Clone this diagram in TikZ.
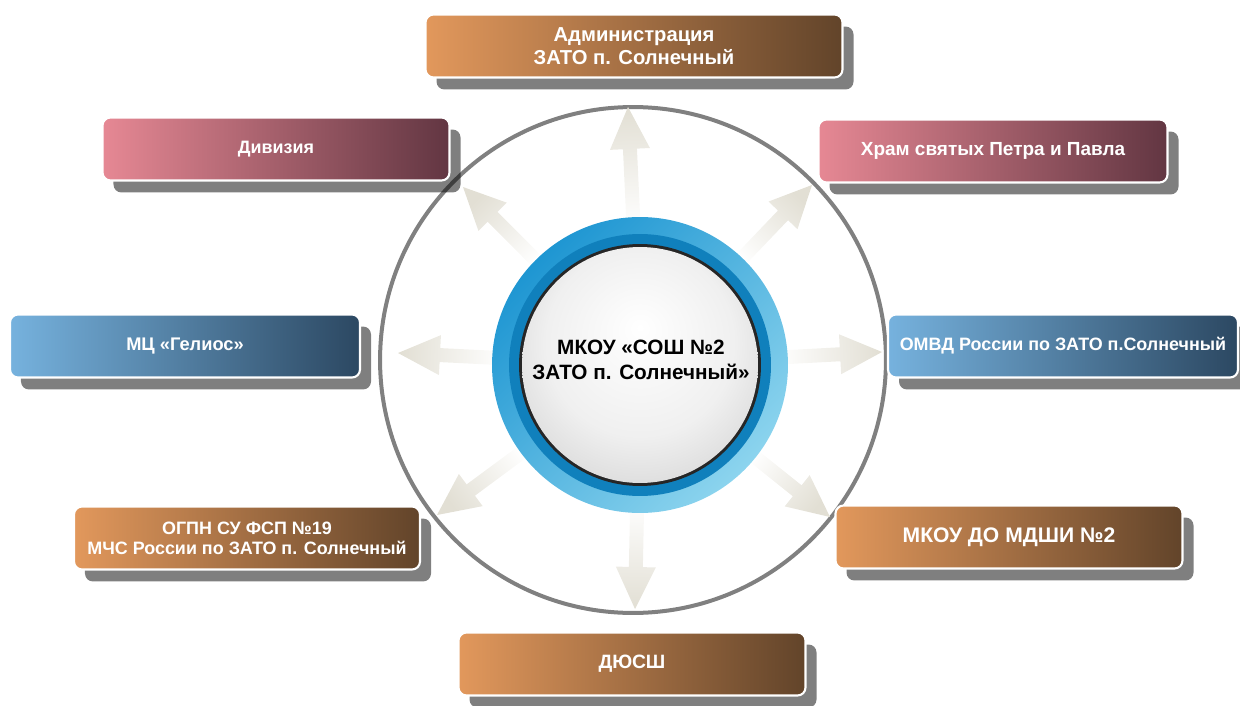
\documentclass[tikz,border=0pt]{standalone}
\usepackage{fontspec}
\setmainfont{Liberation Sans}
\usetikzlibrary{calc,shadows}

\definecolor{arrowc}{RGB}{226,223,212}
\definecolor{brownL}{RGB}{226,152,92}
\definecolor{brownR}{RGB}{98,68,42}
\definecolor{roseL}{RGB}{230,136,148}
\definecolor{roseR}{RGB}{98,54,66}
\definecolor{blueL}{RGB}{118,178,222}
\definecolor{blueR}{RGB}{44,72,98}
\definecolor{ringA}{RGB}{30,150,210}
\definecolor{ringB}{RGB}{140,212,238}
\definecolor{ringC}{RGB}{16,128,188}

\pgfdeclareradialshading{discshade}{\pgfpoint{0bp}{8bp}}{%
  color(0bp)=(white); color(20bp)=(black!6); color(38bp)=(black!20);
  color(46bp)=(black!32); color(50bp)=(black!45)}

% fat fading arrow from the hub towards a tip coordinate
\newcommand\fatarrow[1]{%
  \coordinate (s) at ($(hub)!2.7cm!(#1)$);
  \pgfmathanglebetweenpoints{\pgfpointanchor{s}{center}}{\pgfpointanchor{#1}{center}}%
  \let\arrang\pgfmathresult
  \shade[top color=arrowc, bottom color=white, shading angle=\arrang-90]
    ($(s)!0.14cm!90:(#1)$) --
    ($(#1)!0.84cm!(s)!0.14cm!90:(#1)$) --
    ($(#1)!0.84cm!(s)!0.40cm!90:(#1)$) --
    (#1) --
    ($(#1)!0.84cm!(s)!0.40cm!-90:(#1)$) --
    ($(#1)!0.84cm!(s)!0.14cm!-90:(#1)$) --
    ($(s)!0.14cm!-90:(#1)$) -- cycle;
}

\begin{document}
\begin{tikzpicture}[x=0.02cm, y=-0.02cm,
  box/.style={rounded corners=0.16cm, draw=white, line width=1.2pt,
    text=white, align=center, minimum height=1.26cm, inner sep=2pt,
    drop shadow={shadow xshift=0.22cm, shadow yshift=-0.24cm, fill=black, opacity=0.5}},
  brown box/.style={left color=brownL, right color=brownR},
  rose box/.style={left color=roseL, right color=roseR},
  blue box/.style={left color=blueL, right color=blueR}]

  \useasboundingbox (0,0) rectangle (1240,706);

  % outer frame circle
  \node [circle, draw=black!50, line width=0.08cm, minimum size=10.12cm] (frame) at (633,360) {};

  \node [circle, minimum size=5.92cm, inner sep=0pt] (hub) at (640,365) {};

  \coordinate (admin-tip) at (628,107);
  \coordinate (division-tip) at (463,187);
  \coordinate (temple-tip) at (812,185);
  \coordinate (youth-tip) at (398,353);
  \coordinate (police-tip) at (882,352);
  \coordinate (fire-tip) at (437,515);
  \coordinate (music-tip) at (830,517);
  \coordinate (sport-tip) at (635,609);

  \foreach \t in {admin,division,temple,youth,police,fire,music,sport}
  \fatarrow{\t-tip};

  % central emblem
  \shade [top color=ringA, bottom color=ringB, shading angle=45] (hub) circle (2.96cm);
  \fill [ringC] (hub) circle (2.62cm);
  \fill [black!85] (hub) circle (2.42cm);
  \shade [shading=discshade] (hub) circle (2.36cm);
  \node [align=center, font=\bfseries\fontsize{11.8pt}{14.5pt}\selectfont] (school) at (641,360)
    {МКОУ «СОШ №2\\ЗАТО п. Солнечный»};

  \foreach \nm/\sty/\x/\y/\w/\fs/\txt in {
    admin/brown/634/46/417/11.5/{Администрация\\ЗАТО п. Солнечный},
    division/rose/276/149/347/10.2/{Дивизия},
    temple/rose/993/151/349/10.8/{Храм святых Петра и Павла},
    youth/blue/185/346/350/10.4/{МЦ «Гелиос»},
    police/blue/1063/346/350/10.2/{ОМВД России по ЗАТО п.Солнечный},
    fire/brown/247/538/346/10.2/{ОГПН СУ ФСП №19\\МЧС России по ЗАТО п. Солнечный},
    music/brown/1009/537/347/12/{МКОУ ДО МДШИ №2},
    sport/brown/632/664/347/11/{ДЮСШ}}
  {
    \pgfmathsetmacro\bs{1.12*\fs}
    \node [box, \sty\space box, minimum width=\w*0.02cm,
      font=\bfseries\fontsize{\fs pt}{\bs pt}\selectfont] (\nm) at (\x,\y) {\txt};
  }

\end{tikzpicture}
\end{document}
